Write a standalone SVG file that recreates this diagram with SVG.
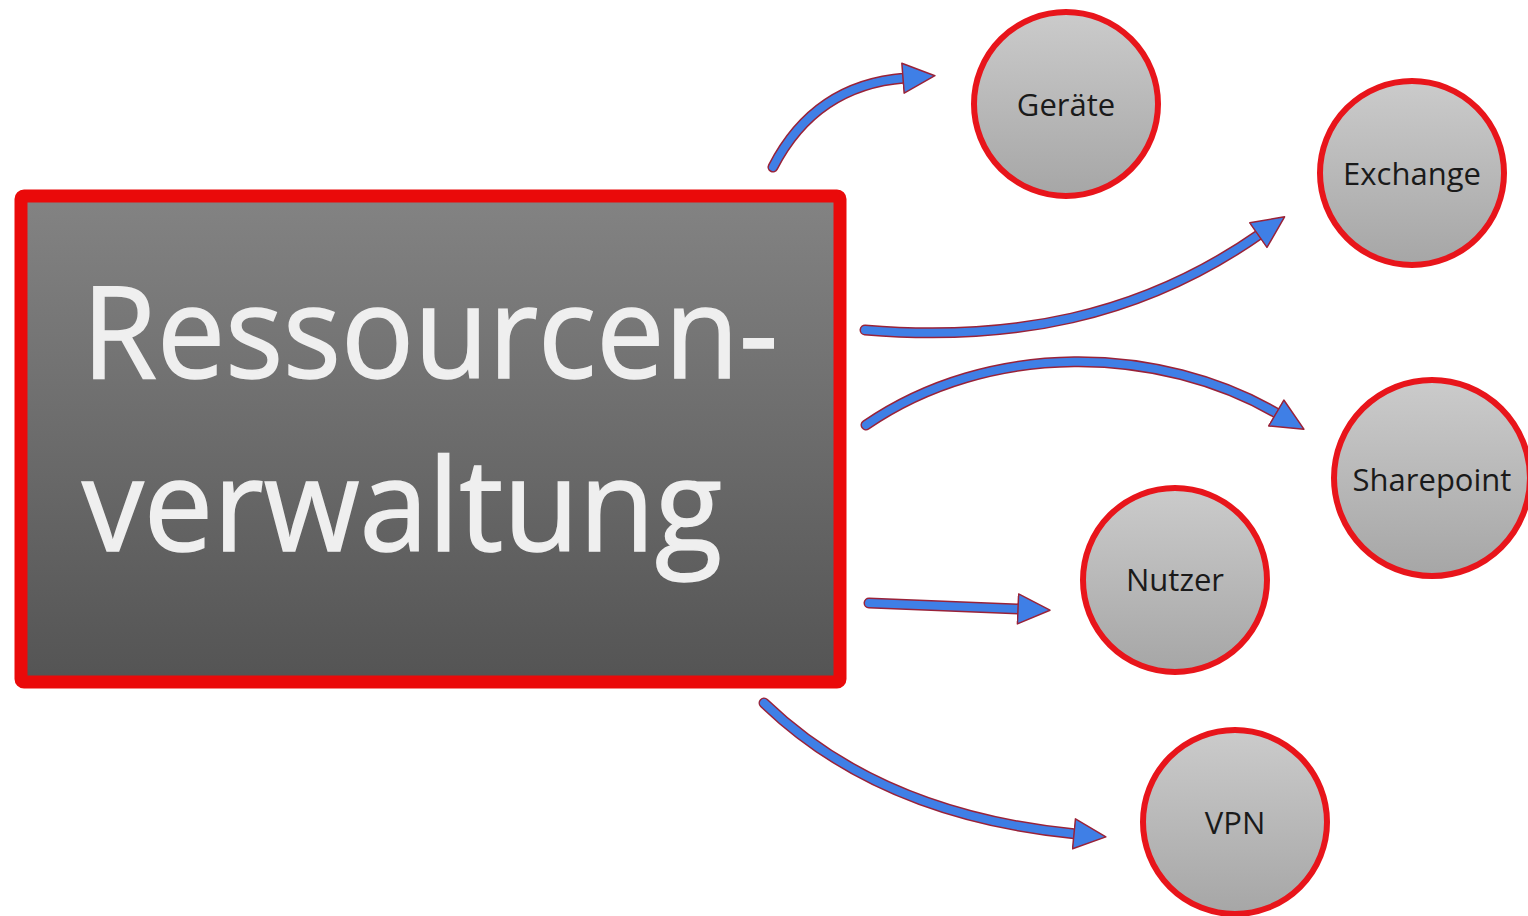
<svg xmlns="http://www.w3.org/2000/svg" width="1528" height="916" viewBox="0 0 1528 916">
<defs>
<linearGradient id="gBox" x1="0" y1="0" x2="0" y2="1">
<stop offset="0" stop-color="#838383"/>
<stop offset="1" stop-color="#545454"/>
</linearGradient>
<linearGradient id="gNode" x1="0" y1="0" x2="0" y2="1">
<stop offset="0" stop-color="#cbcbcb"/>
<stop offset="1" stop-color="#a6a6a6"/>
</linearGradient>
<marker id="head" markerUnits="userSpaceOnUse" markerWidth="34" markerHeight="32" viewBox="0 0 34 32" refX="3" refY="16" orient="auto">
<path d="M1,1 L33,16 L1,31 Z" fill="#3f7fe6" stroke="#9a2238" stroke-width="1.5" stroke-linejoin="round"/>
</marker>
<style>
.node circle{fill:url(#gNode);stroke:#e8151b;stroke-width:6}
.node text{font-family:"Open Sans","Noto Sans","DejaVu Sans",sans-serif;font-size:31px;fill:#1a1a1a;text-anchor:middle}
.o{fill:none;stroke:#9a2238;stroke-width:11;stroke-linecap:round}
.s{fill:none;stroke:#3f7fe6;stroke-width:8;stroke-linecap:round;marker-end:url(#head)}
.big{font-family:"Open Sans","Noto Sans","DejaVu Sans",sans-serif;font-size:128px;fill:#efefef;stroke:#efefef;stroke-width:1.5}
</style>
</defs>
<rect width="1528" height="916" fill="#ffffff"/>
<g id="connectors">
<path class="o" d="M773,167 Q815,85 905,78"/>
<path class="s" d="M773,167 Q815,85 905,78"/>
<path class="o" d="M865,330 C1010,342 1140,318 1260,234"/>
<path class="s" d="M865,330 C1010,342 1140,318 1260,234"/>
<path class="o" d="M866,425 C990,340 1160,345 1278,414"/>
<path class="s" d="M866,425 C990,340 1160,345 1278,414"/>
<path class="o" d="M869,603 L1020,609"/>
<path class="s" d="M869,603 L1020,609"/>
<path class="o" d="M764,703 Q880,815 1076,834"/>
<path class="s" d="M764,703 Q880,815 1076,834"/>
</g>
<g id="main">
<rect x="21" y="196" width="819" height="486" rx="3" fill="url(#gBox)" stroke="#ea0a0a" stroke-width="13"/>
<text class="big" x="82" y="378" textLength="696" lengthAdjust="spacingAndGlyphs">Ressourcen-</text>
<text class="big" x="82" y="551" textLength="640" lengthAdjust="spacingAndGlyphs">verwaltung</text>
</g>
<g id="geraete" class="node"><circle cx="1066" cy="104" r="92"/><text x="1066" y="116">Geräte</text></g>
<g id="exchange" class="node"><circle cx="1412" cy="173" r="92"/><text x="1412" y="185">Exchange</text></g>
<g id="sharepoint" class="node"><circle cx="1432" cy="478" r="98"/><text x="1432" y="491">Sharepoint</text></g>
<g id="nutzer" class="node"><circle cx="1175" cy="580" r="92"/><text x="1175" y="591">Nutzer</text></g>
<g id="vpn" class="node"><circle cx="1235" cy="822" r="92"/><text x="1235" y="834">VPN</text></g>
</svg>
